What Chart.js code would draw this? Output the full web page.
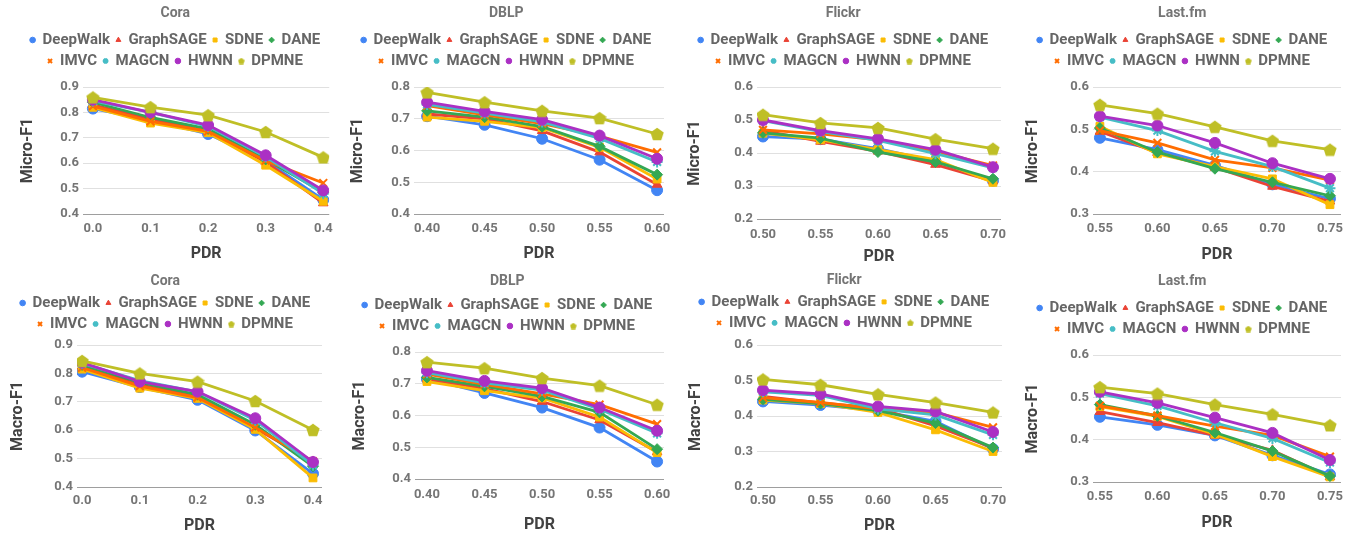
<!DOCTYPE html>
<html>
<head>
<meta charset="utf-8">
<title>PDR results</title>
<script src="https://cdn.jsdelivr.net/npm/chart.js@4.4.0/dist/chart.umd.min.js"></script>
<style>
  body { margin: 0; background: #fff; }
  #wrap { position: relative; width: 1363px; height: 537px; }
  #wrap canvas { position: absolute; }
</style>
</head>
<body>
<div id="wrap">
  <canvas id="c1" width="340" height="268" style="left:0;top:0"></canvas>
  <canvas id="c2" width="340" height="268" style="left:340px;top:0"></canvas>
  <canvas id="c3" width="340" height="268" style="left:680px;top:0"></canvas>
  <canvas id="c4" width="343" height="268" style="left:1020px;top:0"></canvas>
  <canvas id="c5" width="340" height="269" style="left:0;top:268px"></canvas>
  <canvas id="c6" width="340" height="269" style="left:340px;top:268px"></canvas>
  <canvas id="c7" width="340" height="269" style="left:680px;top:268px"></canvas>
  <canvas id="c8" width="343" height="269" style="left:1020px;top:268px"></canvas>
</div>
<script>
// ---- data ----
var methods = ['DeepWalk', 'GraphSAGE', 'SDNE', 'DANE', 'IMVC', 'MAGCN', 'HWNN', 'DPMNE'];

var pdrCora = [0.0, 0.1, 0.2, 0.3, 0.4];
var pdrDblp = [0.40, 0.45, 0.50, 0.55, 0.60];
var pdrFlickr = [0.50, 0.55, 0.60, 0.65, 0.70];
var pdrLastfm = [0.55, 0.60, 0.65, 0.70, 0.75];

// one row per method, same order as methods
var coraMicro = [
    [0.815, 0.770, 0.715, 0.610, 0.456],
    [0.830, 0.775, 0.725, 0.605, 0.443],
    [0.820, 0.758, 0.720, 0.592, 0.450],
    [0.840, 0.780, 0.735, 0.615, 0.485],
    [0.825, 0.765, 0.725, 0.610, 0.522],
    [0.845, 0.800, 0.745, 0.625, 0.480],
    [0.850, 0.800, 0.750, 0.631, 0.493],
    [0.859, 0.821, 0.789, 0.723, 0.623]
];
var dblpMicro = [
    [0.708, 0.681, 0.637, 0.571, 0.475],
    [0.715, 0.700, 0.662, 0.595, 0.493],
    [0.705, 0.692, 0.672, 0.610, 0.510],
    [0.725, 0.705, 0.675, 0.613, 0.524],
    [0.741, 0.712, 0.685, 0.645, 0.594],
    [0.745, 0.718, 0.690, 0.638, 0.564],
    [0.752, 0.723, 0.697, 0.647, 0.574],
    [0.783, 0.752, 0.725, 0.702, 0.652]
];
var flickrMicro = [
    [0.450, 0.442, 0.413, 0.375, 0.316],
    [0.468, 0.435, 0.405, 0.365, 0.315],
    [0.460, 0.440, 0.410, 0.380, 0.311],
    [0.461, 0.445, 0.403, 0.373, 0.322],
    [0.470, 0.458, 0.440, 0.405, 0.362],
    [0.498, 0.465, 0.438, 0.398, 0.355],
    [0.500, 0.468, 0.443, 0.410, 0.357],
    [0.516, 0.491, 0.476, 0.442, 0.413]
];
var lastfmMicro = [
    [0.480, 0.452, 0.415, 0.370, 0.336],
    [0.495, 0.445, 0.410, 0.365, 0.330],
    [0.507, 0.442, 0.412, 0.383, 0.322],
    [0.503, 0.446, 0.407, 0.375, 0.343],
    [0.497, 0.468, 0.428, 0.409, 0.380],
    [0.529, 0.497, 0.448, 0.412, 0.361],
    [0.531, 0.509, 0.468, 0.420, 0.383],
    [0.558, 0.537, 0.506, 0.473, 0.452]
];
var coraMacro = [
    [0.806, 0.752, 0.707, 0.599, 0.447],
    [0.825, 0.760, 0.720, 0.607, 0.490],
    [0.815, 0.748, 0.712, 0.603, 0.432],
    [0.830, 0.768, 0.725, 0.619, 0.473],
    [0.820, 0.755, 0.715, 0.610, 0.490],
    [0.835, 0.775, 0.735, 0.635, 0.477],
    [0.838, 0.771, 0.736, 0.642, 0.488],
    [0.844, 0.800, 0.771, 0.703, 0.601]
];
var dblpMacro = [
    [0.715, 0.671, 0.625, 0.562, 0.455],
    [0.715, 0.685, 0.644, 0.586, 0.485],
    [0.707, 0.678, 0.655, 0.595, 0.483],
    [0.720, 0.692, 0.660, 0.610, 0.494],
    [0.730, 0.698, 0.668, 0.634, 0.573],
    [0.735, 0.703, 0.680, 0.620, 0.544],
    [0.741, 0.709, 0.686, 0.625, 0.552],
    [0.768, 0.749, 0.718, 0.694, 0.634]
];
var flickrMacro = [
    [0.441, 0.431, 0.415, 0.385, 0.307],
    [0.455, 0.437, 0.422, 0.372, 0.310],
    [0.445, 0.435, 0.410, 0.361, 0.300],
    [0.447, 0.435, 0.415, 0.380, 0.311],
    [0.452, 0.438, 0.420, 0.410, 0.368],
    [0.468, 0.458, 0.420, 0.403, 0.347],
    [0.473, 0.462, 0.427, 0.413, 0.355],
    [0.503, 0.488, 0.461, 0.438, 0.410]
];
var lastfmMacro = [
    [0.454, 0.435, 0.410, 0.363, 0.318],
    [0.466, 0.440, 0.410, 0.375, 0.312],
    [0.478, 0.455, 0.413, 0.360, 0.312],
    [0.483, 0.456, 0.417, 0.373, 0.314],
    [0.480, 0.457, 0.432, 0.410, 0.360],
    [0.509, 0.480, 0.440, 0.403, 0.346],
    [0.513, 0.487, 0.452, 0.416, 0.352],
    [0.524, 0.509, 0.483, 0.460, 0.434]
];

// ---- styles ----
var colors = ['#4285F4', '#EA4335', '#FBBC04', '#34A853', '#FF6D01', '#46BDC6', '#AB30C4', '#BFBF26'];

// pentagon marker for DPMNE (chart.js has no pentagon)
function pentagon(size, color) {
    var c = document.createElement('canvas');
    c.width = size; c.height = size;
    var g = c.getContext('2d');
    var r = size / 2;
    g.fillStyle = color;
    g.beginPath();
    for (var k = 0; k < 5; k++) {
        var a = -Math.PI / 2 + k * 2 * Math.PI / 5;
        var px = r + r * Math.cos(a), py = r * 1.1 + r * Math.sin(a);
        if (k === 0) g.moveTo(px, py); else g.lineTo(px, py);
    }
    g.closePath();
    g.fill();
    return c;
}
var pentBig = pentagon(14, colors[7]);
var pentSmall = pentagon(7, colors[7]);
var markers = ['circle', 'triangle', 'rect', 'rectRot', 'crossRot', 'star', 'circle', pentBig];

Chart.defaults.font.family = 'Roboto';
Chart.defaults.font.weight = 'bold';

function makeChart(id, title, yTitle, pdr, values, yMin, yMax, dec, L) {
    var canvas = document.getElementById(id);
    var W = canvas.width, H = canvas.height;
    var span = pdr[pdr.length - 1] - pdr[0];
    var padTop = L.titleY - 8.4;
    var titlePadBottom = Math.max(0, L.legendY - L.titleY - 21.9);
    var legendTop = padTop + 16.8 + titlePadBottom;
    var padLeft = L.yTitleX - 9.6;

    var datasets = methods.map(function (name, i) {
        return {
            label: name,
            data: pdr.map(function (x, j) { return { x: x, y: values[i][j] }; }),
            borderColor: colors[i],
            backgroundColor: colors[i],
            borderWidth: 2.8,
            pointStyle: markers[i],
            pointRadius: 5.5,
            pointBorderWidth: (i === 4 || i === 5) ? 2 : 1,
            order: methods.length - i
        };
    });

    return new Chart(canvas, {
        type: 'line',
        data: { datasets: datasets },
        options: {
            responsive: false,
            animation: false,
            layout: { padding: { top: padTop, left: padLeft, right: W - L.right, bottom: 0 } },
            plugins: {
                title: {
                    display: true, text: title, color: '#757575',
                    font: { size: 14, weight: 'bold' },
                    padding: { top: 0, bottom: titlePadBottom }
                },
                legend: {
                    display: true,
                    labels: {
                        usePointStyle: true, boxWidth: 5, boxHeight: 4, padding: 6,
                        color: '#666666', font: { size: 15, weight: 'bold' },
                        sort: function (a, b) { return a.datasetIndex - b.datasetIndex; },
                        generateLabels: function (chart) {
                            var items = Chart.defaults.plugins.legend.labels.generateLabels(chart);
                            items.forEach(function (it) { if (it.pointStyle === pentBig) it.pointStyle = pentSmall; });
                            return items;
                        }
                    }
                },
                tooltip: { enabled: false }
            },
            scales: {
                x: {
                    type: 'linear',
                    min: pdr[0] - span * L.xPad[0],
                    max: pdr[pdr.length - 1] + span * L.xPad[1],
                    afterBuildTicks: function (scale) {
                        scale.ticks = pdr.map(function (v) { return { value: v }; });
                    },
                    afterFit: function (scale) { scale.height = H - L.bottom; },
                    grid: { display: false, drawTicks: false },
                    border: { display: false },
                    ticks: {
                        color: '#757575', font: { size: 13, weight: 'bold' },
                        padding: L.tickY - L.bottom - 7.8,
                        maxRotation: 0,
                        callback: function (v) { return Number(v).toFixed(dec); }
                    },
                    title: {
                        display: true, text: 'PDR', color: '#424242',
                        font: { size: 16, weight: 'bold' },
                        padding: { top: 0, bottom: H - L.pdrY - 9.6 }
                    }
                },
                y: {
                    min: yMin, max: yMax,
                    afterFit: function (scale) { scale.width = L.left - padLeft; },
                    grid: {
                        drawTicks: false,
                        color: function (ctx) { return ctx.index === 0 ? '#9e9e9e' : '#e0e0e0'; }
                    },
                    border: { display: false },
                    ticks: {
                        stepSize: 0.1, padding: 4,
                        color: '#757575', font: { size: 13, weight: 'bold' },
                        callback: function (v) { return Number(v).toFixed(1); }
                    },
                    title: {
                        display: true, text: yTitle, color: '#424242',
                        font: { size: 16, weight: 'bold' },
                        padding: { top: 0, bottom: 0 }
                    }
                }
            }
        },
        plugins: [{
            id: 'legendGap',
            beforeInit: function (chart) {
                var fit = chart.legend.fit;
                chart.legend.fit = function () {
                    fit.call(this);
                    this.height = L.top - legendTop;
                };
            }
        }]
    });
}

// panel layout (pixels inside each canvas)
var lay1 = { titleY: 13, legendY: 40, top: 87, bottom: 214, left: 83, right: 332, yTitleX: 28, tickY: 229, pdrY: 254, xPad: [0.043, 0.026] };
var lay2 = { titleY: 13, legendY: 40, top: 87, bottom: 214, left: 74, right: 324, yTitleX: 18, tickY: 229, pdrY: 254, xPad: [0.057, 0.030] };
var lay3 = { titleY: 13, legendY: 40, top: 87, bottom: 219, left: 77, right: 321, yTitleX: 15, tickY: 235, pdrY: 257, xPad: [0.026, 0.035] };
var lay4 = { titleY: 13, legendY: 40, top: 87, bottom: 214, left: 73, right: 321, yTitleX: 13, tickY: 229, pdrY: 255, xPad: [0.030, 0.048] };
var lay5 = { titleY: 13, legendY: 35, top: 77, bottom: 219, left: 77, right: 322, yTitleX: 18, tickY: 233, pdrY: 258, xPad: [0.022, 0.039] };
var lay6 = { titleY: 13, legendY: 37, top: 84, bottom: 211, left: 75, right: 324, yTitleX: 20, tickY: 227, pdrY: 257, xPad: [0.052, 0.030] };
var lay7 = { titleY: 12, legendY: 33, top: 77, bottom: 219, left: 77, right: 322, yTitleX: 16, tickY: 233, pdrY: 258, xPad: [0.026, 0.039] };
var lay8 = { titleY: 13, legendY: 40, top: 87, bottom: 214, left: 73, right: 321, yTitleX: 13, tickY: 229, pdrY: 255, xPad: [0.030, 0.048] };

makeChart('c1', 'Cora', 'Micro-F1', pdrCora, coraMicro, 0.4, 0.9, 1, lay1);
makeChart('c2', 'DBLP', 'Micro-F1', pdrDblp, dblpMicro, 0.4, 0.8, 2, lay2);
makeChart('c3', 'Flickr', 'Micro-F1', pdrFlickr, flickrMicro, 0.2, 0.6, 2, lay3);
makeChart('c4', 'Last.fm', 'Micro-F1', pdrLastfm, lastfmMicro, 0.3, 0.6, 2, lay4);
makeChart('c5', 'Cora', 'Macro-F1', pdrCora, coraMacro, 0.4, 0.9, 1, lay5);
makeChart('c6', 'DBLP', 'Macro-F1', pdrDblp, dblpMacro, 0.4, 0.8, 2, lay6);
makeChart('c7', 'Flickr', 'Macro-F1', pdrFlickr, flickrMacro, 0.2, 0.6, 2, lay7);
makeChart('c8', 'Last.fm', 'Macro-F1', pdrLastfm, lastfmMacro, 0.3, 0.6, 2, lay8);
</script>
</body>
</html>
